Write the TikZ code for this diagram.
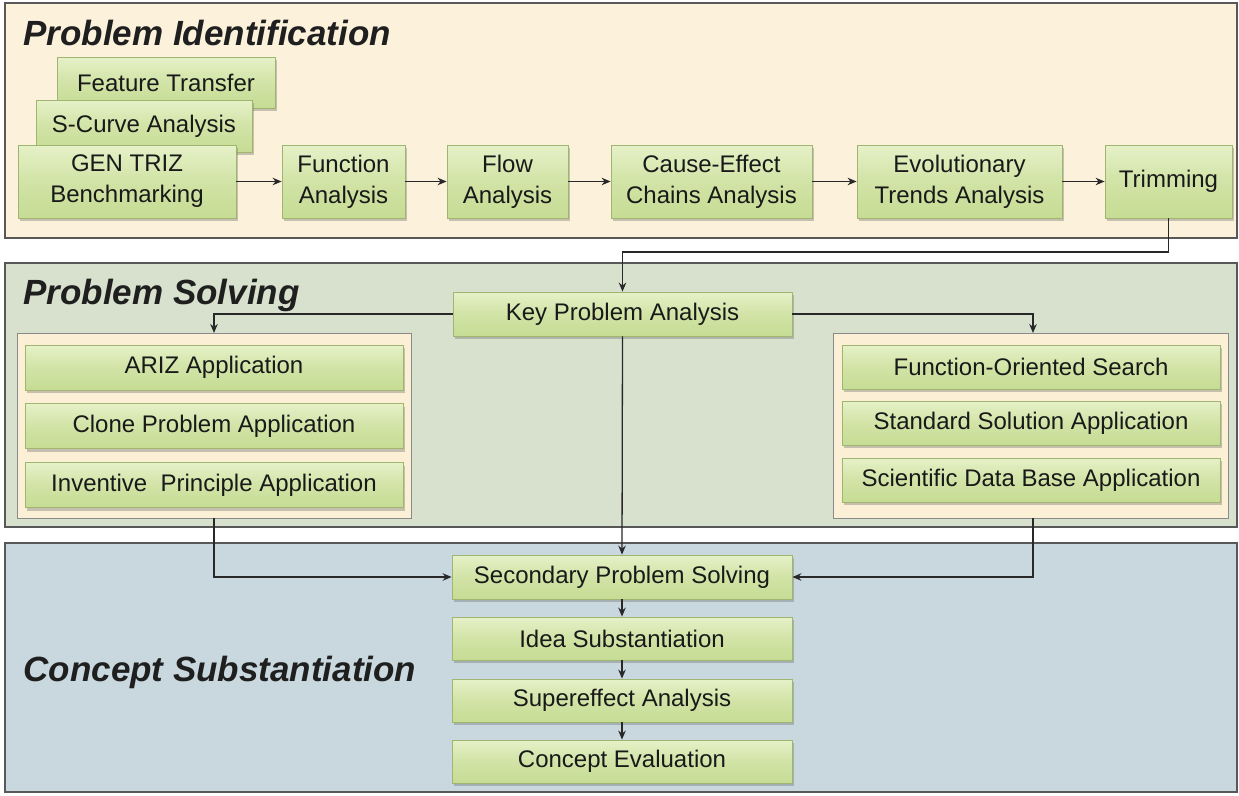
\documentclass[tikz,border=0pt]{standalone}
\usepackage{fontspec}
\setmainfont{Liberation Sans}
\usetikzlibrary{shadows,arrows.meta}

\definecolor{idpanel}{RGB}{252,241,218}
\definecolor{solvepanel}{RGB}{215,225,206}
\definecolor{conceptpanel}{RGB}{200,216,222}
\definecolor{subpanel}{RGB}{251,239,214}
\definecolor{boxtop}{RGB}{230,241,200}
\definecolor{boxbottom}{RGB}{198,220,148}
\definecolor{boxedge}{RGB}{160,182,112}
\definecolor{frameedge}{RGB}{88,88,88}
\definecolor{wire}{RGB}{40,40,40}

\tikzset{
  panel/.style={draw=frameedge, line width=1.6pt},
  group/.style={draw=frameedge!70, line width=1pt, fill=subpanel},
  box/.style={rectangle, draw=boxedge, line width=0.8pt,
    top color=boxtop, bottom color=boxbottom, middle color=boxbottom!65!boxtop,
    drop shadow={shadow xshift=2pt, shadow yshift=-3pt, opacity=0.35, fill=black!60},
    align=center, inner sep=2pt,
    font=\fontsize{24}{31}\selectfont, text=black!90},
  title/.style={anchor=base west, font=\fontsize{35}{40}\selectfont\bfseries\itshape, text=black!88},
  flow/.style={draw=wire, line width=1.3pt, -{Stealth[length=9pt,width=7.5pt]}},
}

\begin{document}
\begin{tikzpicture}[x=1pt,y=-1pt]
\useasboundingbox (0,0) rectangle (1239,795);
\fill[white] (0,0) rectangle (1239,795);

% ---- three stage panels
\draw[panel, fill=idpanel] (5,3) rectangle (1237,238);
\draw[panel, fill=solvepanel] (5,263) rectangle (1237,527);
\draw[panel, fill=conceptpanel] (5,543) rectangle (1237,792);

\node[title] (t1) at (20,45) {Problem Identification};
\node[title] (t2) at (20,304) {Problem Solving};
\node[title] (t3) at (20,681) {Concept Substantiation};

% ---- problem identification chain
\node[box, minimum width=218pt, minimum height=51pt] (ft) at (166,82.5) {Feature Transfer};
\node[box, minimum width=216pt, minimum height=52pt] (sc) at (144,126) {S-Curve Analysis};
\node[box, minimum width=218pt, minimum height=73pt] (gen) at (127,181.5) {GEN TRIZ\\Benchmarking};
\node[box, minimum width=123pt, minimum height=73pt] (fa) at (343.5,181.5) {Function\\Analysis};
\node[box, minimum width=121pt, minimum height=73pt] (fl) at (507.5,181.5) {Flow\\Analysis};
\node[box, minimum width=201pt, minimum height=73pt] (ce) at (711.5,181.5) {Cause-Effect\\Chains Analysis};
\node[box, minimum width=205pt, minimum height=73pt] (ev) at (959.5,181.5) {Evolutionary\\Trends Analysis};
\node[box, minimum width=127pt, minimum height=73pt] (tr) at (1168.5,181.5) {Trimming};

\draw[flow] (gen) -- (fa);
\draw[flow] (fa) -- (fl);
\draw[flow] (fl) -- (ce);
\draw[flow] (ce) -- (ev);
\draw[flow] (ev) -- (tr);

% ---- problem solving
\node[box, minimum width=339pt, minimum height=44pt] (kp) at (622.5,314) {Key Problem Analysis};

\draw[group] (17,333) rectangle (411,518);
\coordinate (lg) at (214,333);
\coordinate (lgb) at (214,518);
\node[box, minimum width=378pt, minimum height=45pt] (ariz) at (214,367.5) {ARIZ Application};
\node[box, minimum width=378pt, minimum height=45pt] (clone) at (214,426) {Clone Problem Application};
\node[box, minimum width=378pt, minimum height=45pt] (ip) at (214,485) {Inventive\ \ Principle Application};

\draw[group] (833,333) rectangle (1228,518);
\coordinate (rg) at (1033,333);
\coordinate (rgb) at (1033,518);
\node[box, minimum width=378pt, minimum height=44pt] (fos) at (1031,367) {Function-Oriented Search};
\node[box, minimum width=378pt, minimum height=44pt] (ssa) at (1031,423) {Standard Solution Application};
\node[box, minimum width=378pt, minimum height=44pt] (sdb) at (1031,480) {Scientific Data Base Application};

% ---- concept substantiation chain
\node[box, minimum width=340pt, minimum height=44pt] (sps) at (622,577) {Secondary Problem Solving};
\node[box, minimum width=340pt, minimum height=43pt] (ids) at (622,638.5) {Idea Substantiation};
\node[box, minimum width=340pt, minimum height=43pt] (sea) at (622,700.5) {Supereffect Analysis};
\node[box, minimum width=340pt, minimum height=43pt] (cev) at (622,761.5) {Concept Evaluation};

% ---- connectors
\draw[flow] (tr.south) |- (622.5,252) -- (kp.north);
\draw[flow] (kp.west) -| (lg);
\draw[flow] (kp.east) -| (rg);
\draw[flow] (kp.south) -- (sps.north);
\draw[flow] (lgb) |- (sps.west);
\draw[flow] (rgb) |- (sps.east);
\draw[flow] (sps) -- (ids);
\draw[flow] (ids) -- (sea);
\draw[flow] (sea) -- (cev);
\end{tikzpicture}
\end{document}
